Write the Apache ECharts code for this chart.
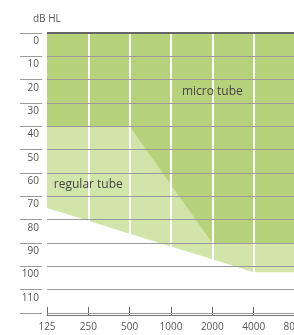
<!DOCTYPE html>
<html lang="en">
<head>
    <meta charset="UTF-8">
    <title>Hearing aid fitting range</title>
    <script type="text/javascript" src="https://cdn.jsdelivr.net/npm/echarts@6/dist/echarts.min.js"></script>
    <style>
        html, body { margin: 0; padding: 0; background: #fff; }
    </style>
</head>
<body>
<div id="main" style="width: 294px; height: 335px;"></div>
<script type="text/javascript">
    // frequencies in Hz (octave steps, equally spaced)
    var freqs = ['125', '250', '500', '1000', '2000', '4000', '8000'];
    // lower limit of each fitting range, dB HL
    var microTube = [40, 40, 40, 65, 90, 90, 90];
    var regularTube = [75, 80.5, 86, 91.5, 97, 102.5, 102.5];
    var dbTicks = [0, 10, 20, 30, 40, 50, 60, 70, 80, 90, 100, 110, 120];

    var font = 'Open Sans';
    var splitColors = dbTicks.map(function (v, i) {
        return i === 0 ? '#666' : '#9a9a9a';
    });

    var myChart = echarts.init(document.getElementById('main'));
    var option = {
        animation: false,
        title: {
            text: 'dB HL',
            left: 28,
            top: 9,
            textStyle: { fontFamily: font, fontSize: 10, fontWeight: 'normal', color: '#555' }
        },
        grid: { left: 47, right: -1, top: 33, bottom: 22, outerBoundsMode: 'none', containLabel: false },
        xAxis: {
            type: 'category',
            data: freqs,
            boundaryGap: false,
            offset: 2,
            z: 5,
            axisLine: { onZero: false, lineStyle: { color: '#777', width: 1 } },
            axisTick: { inside: true, length: 8, lineStyle: { color: '#666' } },
            axisLabel: { margin: 7, fontFamily: font, fontSize: 10, color: '#555', showMaxLabel: true, hideOverlap: false },
            splitLine: {
                show: true,
                interval: function (i) { return i > 0 && i < freqs.length - 1; },
                lineStyle: { color: '#fff', width: 2 }
            }
        },
        yAxis: [{
            type: 'value',
            inverse: true,
            min: 0,
            max: 120,
            interval: 10,
            offset: 5,
            z: 6,
            axisLine: { show: false },
            axisTick: { show: true, length: 22, lineStyle: { color: '#9a9a9a' } },
            axisLabel: {
                margin: 3,
                verticalAlign: 'top',
                padding: [3, 0, 0, 0],
                fontFamily: font,
                fontSize: 10,
                color: '#555',
                formatter: function (v) { return v === 120 ? '' : v; }
            },
            splitLine: { show: true, lineStyle: { color: splitColors, width: 1 } }
        }, {
            type: 'value',
            inverse: true,
            min: 0,
            max: 120,
            interval: 10,
            offset: 5,
            z: 7,
            axisLine: { show: false },
            axisTick: { show: true, length: 22, customValues: [0, 120], lineStyle: { color: '#555' } },
            axisLabel: { show: false },
            splitLine: { show: false }
        }],
        series: [
            {
                name: 'regular tube',
                type: 'line',
                data: regularTube,
                symbol: 'none',
                lineStyle: { width: 0 },
                areaStyle: { color: '#d1e4a9', opacity: 1, origin: 'start' },
                markPoint: {
                    symbol: 'circle',
                    symbolSize: 0,
                    label: { show: true, position: 'inside', formatter: 'regular tube', fontFamily: font, fontSize: 12, color: '#444' },
                    data: [{ coord: ['250', 65] }]
                }
            },
            {
                name: 'micro tube',
                type: 'line',
                data: microTube,
                symbol: 'none',
                lineStyle: { width: 0 },
                areaStyle: { color: '#b6d37c', opacity: 1, origin: 'start' },
                markPoint: {
                    symbol: 'circle',
                    symbolSize: 0,
                    label: { show: true, position: 'inside', formatter: 'micro tube', fontFamily: font, fontSize: 12, color: '#444' },
                    data: [{ coord: ['2000', 25] }]
                },
                markLine: {
                    z: 20,
                    silent: true,
                    symbol: 'none',
                    label: { show: false },
                    lineStyle: { color: '#666', width: 2, type: 'solid' },
                    data: [{ yAxis: 0 }]
                }
            }
        ]
    };
    myChart.setOption(option);
</script>
</body>
</html>
